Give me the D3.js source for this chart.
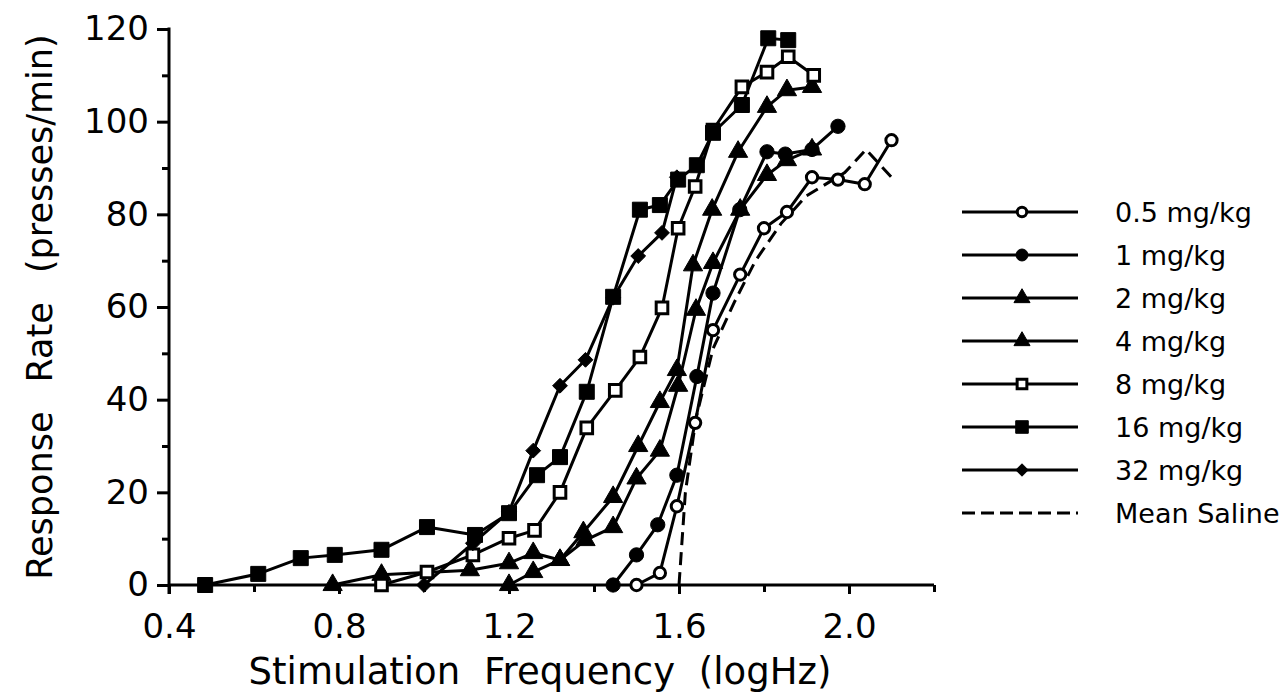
<!DOCTYPE html>
<html>
<head>
<meta charset="utf-8">
<script src="https://cdn.jsdelivr.net/npm/d3@7"></script>
<style>
body{margin:0;background:#fff}
text{font-family:"DejaVu Sans",Verdana,sans-serif;fill:#000}
</style>
</head>
<body>
<script>
// values (logHz, presses/min)
var freq05 = [1.50, 1.555, 1.595, 1.638, 1.68, 1.744, 1.80, 1.854, 1.913, 1.974, 2.037, 2.10];
var rate05 = [0, 2.6, 17, 35, 55, 67, 77, 80.5, 88, 87.5, 86.5, 96];

var freq1 = [1.445, 1.50, 1.55, 1.595, 1.642, 1.68, 1.743, 1.807, 1.85, 1.913, 1.974];
var rate1 = [0, 6.5, 13, 23.7, 45, 63, 81, 93.5, 93, 94, 99];

var freq2 = [0.785, 0.90, 1.108, 1.20, 1.257, 1.32, 1.38, 1.445, 1.50, 1.555, 1.598, 1.64, 1.68, 1.744, 1.807, 1.854, 1.913];
var rate2 = [0, 2.2, 3.2, 4.7, 6.9, 5.4, 9.7, 12.5, 23, 29, 43, 59.4, 69.5, 81, 88.5, 91.7, 94];

var freq4 = [1.20, 1.257, 1.32, 1.375, 1.445, 1.504, 1.555, 1.595, 1.633, 1.678, 1.739, 1.807, 1.854, 1.913];
var rate4 = [0, 2.8, 5.4, 11.4, 19, 30, 39.5, 46.4, 69, 81, 93.5, 103.2, 106.8, 107.5];

var freq8 = [0.90, 1.007, 1.115, 1.20, 1.26, 1.32, 1.383, 1.45, 1.508, 1.56, 1.598, 1.638, 1.68, 1.748, 1.807, 1.857, 1.917];
var rate8 = [0, 2.8, 6.5, 10.1, 11.8, 20, 33.9, 42, 49.2, 59.8, 77, 86, 98.2, 107.5, 110.7, 114, 110];

var freq16 = [0.485, 0.61, 0.71, 0.79, 0.90, 1.007, 1.12, 1.20, 1.266, 1.32, 1.383, 1.445, 1.508, 1.555, 1.598, 1.642, 1.68, 1.748, 1.81, 1.857];
var rate16 = [0, 2.4, 5.8, 6.5, 7.6, 12.5, 10.8, 15.5, 23.7, 27.6, 41.7, 62.2, 81, 82, 87.5, 90.6, 97.6, 103.6, 118, 117.6];

var freq32 = [1.0, 1.115, 1.20, 1.257, 1.32, 1.38, 1.445, 1.504, 1.56, 1.595];
var rate32 = [0, 9, 15.8, 29, 43, 48.6, 62, 71, 76, 88];

var freqSal = [1.60, 1.615, 1.64, 1.68, 1.73, 1.78, 1.84, 1.90, 1.99, 2.04, 2.07, 2.10];
var rateSal = [0, 20, 36, 51, 61, 70, 78, 84, 89, 94, 91, 88];

var legendNames = ['0.5 mg/kg', '1 mg/kg', '2 mg/kg', '4 mg/kg', '8 mg/kg', '16 mg/kg', '32 mg/kg', 'Mean  Saline'];
var xTicks = [0.4, 0.8, 1.2, 1.6, 2.0];
var yTicks = [0, 20, 40, 60, 80, 100, 120];

var series = [
  {f: freq05, r: rate05, shape: 'circle', fill: false},
  {f: freq1, r: rate1, shape: 'circle', fill: true},
  {f: freq2, r: rate2, shape: 'triangle', fill: true},
  {f: freq4, r: rate4, shape: 'triangle', fill: true},
  {f: freq8, r: rate8, shape: 'square', fill: false},
  {f: freq16, r: rate16, shape: 'square', fill: true},
  {f: freq32, r: rate32, shape: 'diamond', fill: true}
];

var w = 1284, h = 692;
var svg = d3.select('body').append('svg')
  .attr('width', w)
  .attr('height', h);

var x = d3.scaleLinear().domain([0.4, 2.2]).range([169, 934]);
var y = d3.scaleLinear().domain([0, 120]).range([585, 29]);

// square diamond (d3's own is too narrow)
var squareDiamond = {
  draw: function (ctx, size) {
    var r = Math.sqrt(size / 2);
    ctx.moveTo(0, -r); ctx.lineTo(r, 0); ctx.lineTo(0, r); ctx.lineTo(-r, 0); ctx.closePath();
  }
};
var symType = {circle: d3.symbolCircle, triangle: d3.symbolTriangle, square: d3.symbolSquare, diamond: squareDiamond};
var symSize = function (s) {
  if (s.shape == 'square') return s.fill ? 225 : 135;
  if (s.shape == 'circle') return s.fill ? 160 : 100;
  if (s.shape == 'triangle') return 160;
  return 110;
};

// axes
var yMinor = d3.axisLeft(y).tickValues(d3.range(10, 120, 20)).tickSize(7).tickFormat('').tickSizeOuter(0);
var yMajor = d3.axisLeft(y).tickValues(yTicks).tickSize(12).tickPadding(8).tickSizeOuter(0);
var xMinor = d3.axisBottom(x).tickValues([0.6, 1.0, 1.4, 1.8, 2.2]).tickSize(7).tickFormat('').tickSizeOuter(0);
var xMajor = d3.axisBottom(x).tickValues(xTicks).tickSize(9).tickPadding(20).tickFormat(d3.format('.1f')).tickSizeOuter(0);

svg.append('g').attr('transform', 'translate(169,0)').call(yMinor);
svg.append('g').attr('transform', 'translate(169,0)').call(yMajor);
svg.append('g').attr('transform', 'translate(0,585)').call(xMinor);
svg.append('g').attr('transform', 'translate(0,585)').call(xMajor);

svg.selectAll('.domain').remove();
svg.selectAll('.tick line').attr('stroke', '#000').attr('stroke-width', 3);
svg.selectAll('.tick text').style('font-size', '34px').style('font-family', '"DejaVu Sans",sans-serif');

svg.append('line').attr('x1', 169).attr('x2', 169).attr('y1', y(120) - 1.5).attr('y2', 594)
  .attr('stroke', '#000').attr('stroke-width', 3);
svg.append('line').attr('x1', 169).attr('x2', x(2.2)).attr('y1', 585).attr('y2', 585)
  .attr('stroke', '#000').attr('stroke-width', 3);

svg.append('text')
  .attr('x', 540).attr('y', 684)
  .attr('text-anchor', 'middle')
  .style('font-size', '37px')
  .style('word-spacing', '12px')
  .text('Stimulation Frequency (logHz)');

svg.append('text')
  .attr('transform', 'translate(52,' + y(60) + ') rotate(-90)')
  .attr('text-anchor', 'middle')
  .style('font-size', '35px')
  .style('word-spacing', '18px')
  .text('Response Rate (presses/min)');

// lines
var line = d3.line().x(function (d) { return x(d[0]); }).y(function (d) { return y(d[1]); });

svg.append('path')
  .datum(d3.zip(freqSal, rateSal))
  .attr('d', line)
  .attr('fill', 'none')
  .attr('stroke', '#000')
  .attr('stroke-width', 3)
  .attr('stroke-dasharray', '13,7');

series.forEach(function (s) {
  svg.append('path')
    .datum(d3.zip(s.f, s.r))
    .attr('d', line)
    .attr('fill', 'none')
    .attr('stroke', '#000')
    .attr('stroke-width', 3)
    .attr('stroke-linejoin', 'round');
});

series.forEach(function (s) {
  svg.append('g').selectAll('path')
    .data(d3.zip(s.f, s.r))
    .enter()
    .append('path')
    .attr('transform', function (d) { return 'translate(' + x(d[0]) + ',' + y(d[1]) + ')'; })
    .attr('d', d3.symbol().type(symType[s.shape]).size(symSize(s)))
    .attr('fill', s.fill ? '#000' : '#fff')
    .attr('stroke', '#000')
    .attr('stroke-width', s.fill ? 1 : 3);
});

// legend
var leg = svg.append('g');
legendNames.forEach(function (name, i) {
  var ly = 212 + i * 43;
  var row = leg.append('g');
  row.append('line')
    .attr('x1', 962).attr('x2', 1078).attr('y1', ly).attr('y2', ly)
    .attr('stroke', '#000').attr('stroke-width', 3)
    .attr('stroke-dasharray', i == 7 ? '13,6' : null);
  if (i < 7) {
    var s = series[i];
    row.append('path')
      .attr('transform', 'translate(1022,' + ly + ')')
      .attr('d', d3.symbol().type(symType[s.shape]).size(symSize(s) * 0.7))
      .attr('fill', s.fill ? '#000' : '#fff')
      .attr('stroke', '#000')
      .attr('stroke-width', s.fill ? 1 : 3);
  }
  row.append('text')
    .attr('x', 1115).attr('y', ly + 10)
    .style('font-size', '27px')
    .text(name);
});
</script>
</body>
</html>
